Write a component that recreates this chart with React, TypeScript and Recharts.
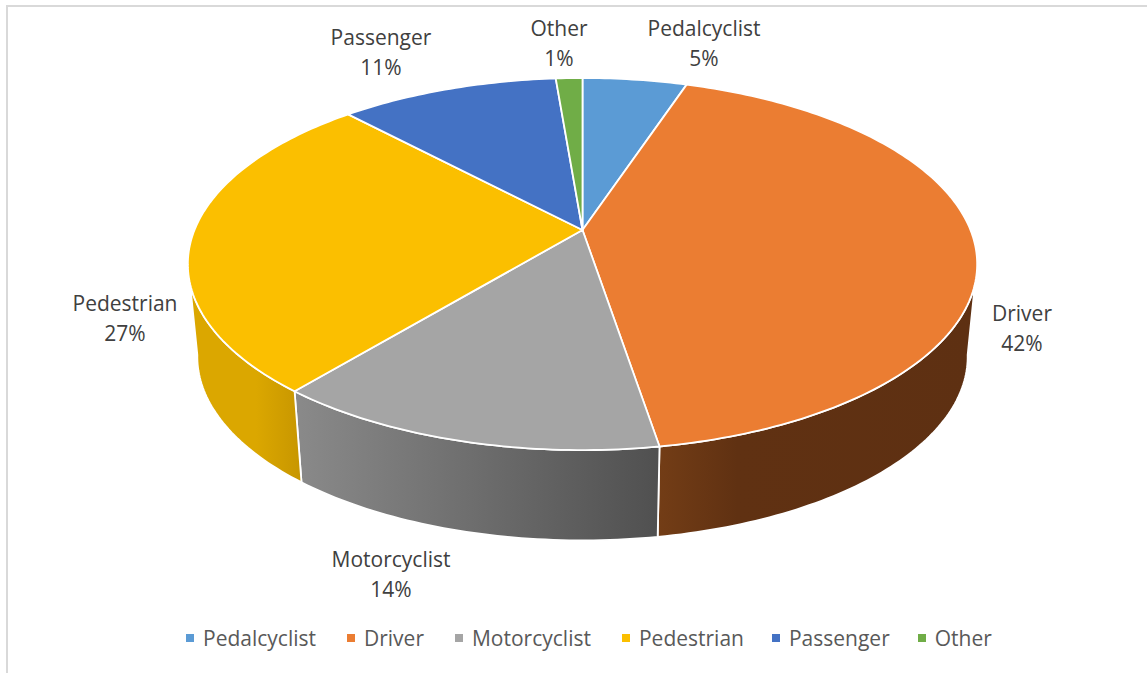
import React from "react";
import { PieChart, Pie, Cell, Legend } from "recharts";

const categories = ["Pedalcyclist", "Driver", "Motorcyclist", "Pedestrian", "Passenger", "Other"];
const shares = [5.1, 42.3, 13.6, 27.0, 10.7, 1.3];
const topColors = ["#5b9bd5", "#eb7d32", "#a5a5a5", "#fbbf00", "#4472c4", "#70ad47"];
const rows = categories.map((name, i) => ({ name, value: shares[i] }));

// wall gradients [stop offset, colour] per category
const wallStops: Record<string, [number, string][]> = {
  Driver: [[0, "#733d16"], [0.25, "#603112"], [1, "#5e3012"]],
  Motorcyclist: [[0, "#8a8a8a"], [1, "#505050"]],
  Pedestrian: [[0, "#dba700"], [0.6, "#dba700"], [1, "#c79600"]],
};

// label centre positions (first line baseline centre)
const labelPos: Record<string, [number, number]> = {
  Pedalcyclist: [704, 36],
  Driver: [1022, 321],
  Motorcyclist: [391, 567],
  Pedestrian: [125, 311],
  Passenger: [381, 45],
  Other: [559, 36],
};
const legendGaps = [31, 31, 31, 28, 28, 0];

const K = 0.183; // perspective strength
const Y_RATIO = 0.4634;
const FLOOR_SCALE = 0.976;
const FLOOR_RATIO = 0.469;
const FLOOR_DROP = 93;

type P = [number, number];
const project = (cx: number, cy: number, r: number, clockDeg: number, scale = 1, ratio = Y_RATIO): P => {
  const t = (clockDeg * Math.PI) / 180;
  const u = Math.sin(t);
  const v = Math.cos(t);
  const d = 1 + K * v;
  return [cx + (r * scale * u) / d, cy - (r * ratio * scale * v) / d];
};
const arc = (from: number, to: number, f: (a: number) => P): P[] => {
  const n = Math.max(2, Math.ceil(Math.abs(to - from)));
  const pts: P[] = [];
  for (let i = 0; i <= n; i++) pts.push(f(from + ((to - from) * i) / n));
  return pts;
};
const toPath = (pts: P[]) => "M" + pts.map((p) => p[0].toFixed(2) + " " + p[1].toFixed(2)).join("L") + "Z";

const TopShape = (props: any) => {
  const { cx, cy, outerRadius, startAngle, endAngle, fill } = props;
  const a = 90 - startAngle;
  const b = 90 - endAngle;
  const rim = arc(a, b, (d) => project(cx, cy, outerRadius, d));
  return <path d={toPath([[cx, cy], ...rim])} fill={fill} stroke="#ffffff" strokeWidth={1.8} strokeLinejoin="round" />;
};

const WallShape = (props: any) => {
  const { cx, cy, outerRadius, startAngle, endAngle, name } = props;
  const a = Math.max(100, 90 - startAngle);
  const b = Math.min(260, 90 - endAngle);
  const stops = wallStops[name];
  if (b <= a || !stops) return <g />;
  const upper = arc(a, b, (d) => project(cx, cy, outerRadius, d));
  const lower = arc(b, a, (d) => project(cx, cy + FLOOR_DROP, outerRadius, d, FLOOR_SCALE, FLOOR_RATIO));
  const id = "wall-" + name;
  return (
    <g>
      <defs>
        <linearGradient id={id} x1="0" y1="0" x2="1" y2="0">
          {stops.map(([o, c]) => (
            <stop key={o} offset={o} stopColor={c} />
          ))}
        </linearGradient>
      </defs>
      <path d={toPath([...upper, ...lower])} fill={`url(#${id})`} stroke="#ffffff" strokeWidth={1.8} strokeLinejoin="round" />
    </g>
  );
};

const renderLabel = (props: any) => {
  const { name, percent } = props;
  const [x, y] = labelPos[name];
  return (
    <text x={x} y={y} textAnchor="middle" fill="#404040" fontFamily="'Open Sans', sans-serif" fontSize={21}>
      <tspan x={x}>{name}</tspan>
      <tspan x={x} dy={30}>{Math.round(percent * 100)}%</tspan>
    </text>
  );
};

const renderLegend = (props: any) => (
  <div style={{ display: "flex", alignItems: "center", fontFamily: "'Open Sans', sans-serif", fontSize: 21, color: "#595959", lineHeight: "28px" }}>
    {categories.map((name, i) => {
      const entry = props.payload.find((e: any) => e.value === name);
      if (!entry) return null;
      return (
        <span key={name} style={{ display: "inline-flex", alignItems: "center", marginRight: legendGaps[i] }}>
          <span style={{ width: 8, height: 8, background: topColors[i], marginRight: 9, display: "inline-block" }} />
          {entry.value}
        </span>
      );
    })}
  </div>
);

export default function App() {
  return (
    <div style={{ position: "absolute", left: 0, top: 0, width: 1147, height: 673, background: "#fff", overflow: "hidden" }}>
      <div style={{ position: "absolute", left: 6, top: 5, width: 1160, height: 700, borderLeft: "2px solid #d9d9d9", borderTop: "2px solid #d9d9d9" }} />
      <PieChart width={1147} height={673} margin={{ top: 0, right: 0, bottom: 0, left: 0 }}>
        <Pie data={rows} dataKey="value" nameKey="name" cx={582.5} cy={230} outerRadius={388} startAngle={90} endAngle={-270}
          isAnimationActive={false} legendType="none" shape={WallShape} label={false} stroke="none">
          {categories.map((c, i) => <Cell key={c} fill={topColors[i]} />)}
        </Pie>
        <Pie data={rows} dataKey="value" nameKey="name" cx={582.5} cy={230} outerRadius={388} startAngle={90} endAngle={-270}
          isAnimationActive={false} shape={TopShape} label={renderLabel} labelLine={false}>
          {categories.map((c, i) => <Cell key={c} fill={topColors[i]} />)}
        </Pie>
        <Legend content={renderLegend} layout="horizontal" verticalAlign="bottom" align="left" itemSorter={null}
          wrapperStyle={{ left: 186, top: 624, bottom: "auto", width: 950 }} />
      </PieChart>
    </div>
  );
}
